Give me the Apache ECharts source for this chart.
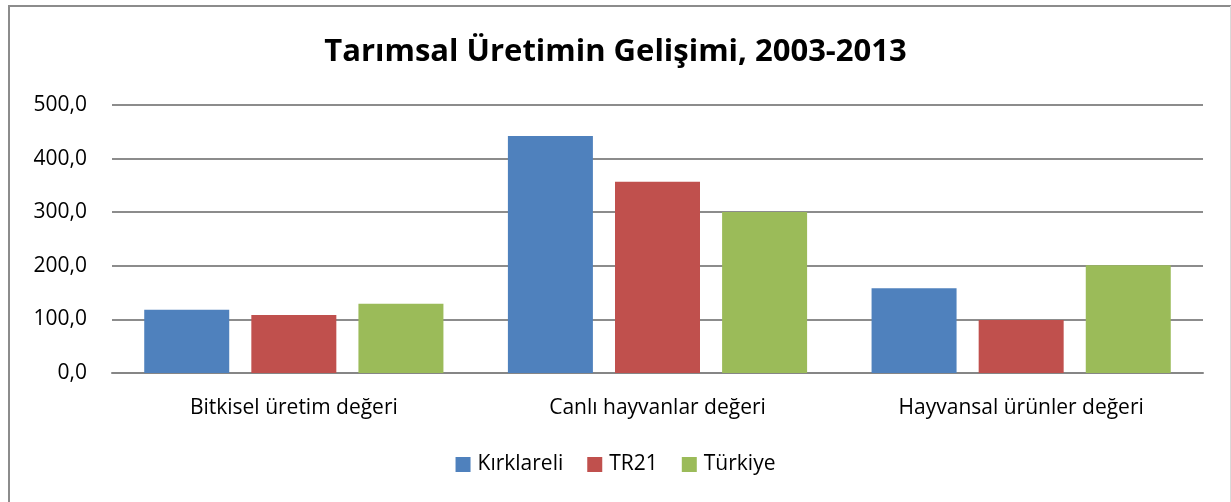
<!DOCTYPE html>
<html>
<head>
<meta charset="utf-8">
<script src="https://cdn.jsdelivr.net/npm/echarts@6/dist/echarts.min.js"></script>
<style>
  html, body { margin: 0; padding: 0; background: #fff; }
  #chart { width: 1231px; height: 502px; }
</style>
</head>
<body>
<div id="chart"></div>
<script>
  const categories = ['Bitkisel üretim değeri', 'Canlı hayvanlar değeri', 'Hayvansal ürünler değeri']
  const kirklareli = [118.0, 442.0, 158.0]
  const tr21 = [108.0, 357.0, 99.0]
  const turkiye = [129.0, 300.5, 201.0]
  const yTicks = [0, 100, 200, 300, 400, 500]

  const font = '"Open Sans", "Noto Sans", sans-serif'

  let myChart = echarts.init(document.getElementById('chart'))
  myChart.setOption({
    animation: false,
    color: ['#4f81bd', '#c0504d', '#9bbb59'],
    textStyle: { fontFamily: font },
    title: {
      text: 'Tarımsal Üretimin Gelişimi, 2003-2013',
      left: 'center',
      top: 32,
      textStyle: { fontSize: 31, fontWeight: 'bold', color: '#000', fontFamily: font }
    },
    legend: {
      bottom: 22,
      left: 'center',
      itemWidth: 15,
      itemHeight: 15,
      itemGap: 24,
      icon: 'rect',
      textStyle: { fontSize: 21, color: '#000', padding: [0, 0, 0, 2] },
      data: ['Kırklareli', 'TR21', 'Türkiye']
    },
    graphic: [
      // chart frame
      { type: 'line', shape: { x1: 9, y1: 5, x2: 9, y2: 502 }, style: { stroke: '#8c8c8c', lineWidth: 2 } },
      { type: 'line', shape: { x1: 8, y1: 6, x2: 1231, y2: 6 }, style: { stroke: '#8c8c8c', lineWidth: 2 } },
      { type: 'line', shape: { x1: 1230.5, y1: 6, x2: 1230.5, y2: 502 }, style: { stroke: '#d9d9d9', lineWidth: 1 } }
    ],
    grid: {
      left: 112,
      right: 28,
      top: 105,
      height: 268
    },
    xAxis: {
      type: 'category',
      data: categories,
      axisLine: { lineStyle: { color: '#868686', width: 2 } },
      axisTick: { show: false },
      axisLabel: { fontSize: 21, color: '#000', margin: 25 }
    },
    yAxis: {
      type: 'value',
      min: yTicks[0],
      max: yTicks[yTicks.length - 1],
      interval: 100,
      axisLine: { show: false },
      axisTick: { show: false },
      axisLabel: {
        fontSize: 21,
        color: '#000',
        margin: 25,
        formatter: v => v.toFixed(1).replace('.', ',')
      },
      splitLine: { lineStyle: { color: '#8c8c8c', width: 2 } }
    },
    series: [
      { name: 'Kırklareli', type: 'bar', barWidth: 85, barGap: '26%', data: kirklareli },
      { name: 'TR21', type: 'bar', barWidth: 85, barGap: '26%', data: tr21 },
      { name: 'Türkiye', type: 'bar', barWidth: 85, barGap: '26%', data: turkiye }
    ]
  })
</script>
</body>
</html>
